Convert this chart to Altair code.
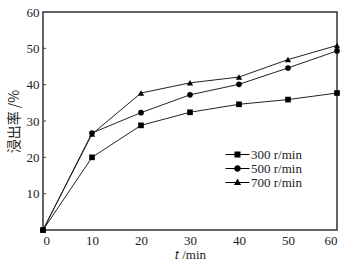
import altair as alt
import pandas as pd

times = [0, 10, 20, 30, 40, 50, 60]
s300 = [0, 20.0, 28.8, 32.4, 34.6, 35.9, 37.7]
s500 = [0, 26.7, 32.3, 37.2, 40.1, 44.6, 49.3]
s700 = [0, 26.4, 37.7, 40.5, 42.1, 46.9, 50.8]
series_names = ["300 r/min", "500 r/min", "700 r/min"]
marker_shapes = ["square", "circle", "triangle-up"]
y_ticks = [10, 20, 30, 40, 50]

rows = []
for name, vals in zip(series_names, [s300, s500, s700]):
    for t, v in zip(times, vals):
        rows.append({"t": t, "v": v, "series": name})
df = pd.DataFrame(rows)
tick_df = pd.DataFrame({"y": y_ticks})

FONT = "Liberation Serif"
xs = alt.Scale(domain=[0, 60], nice=False)
ys = alt.Scale(domain=[0, 60], nice=False)

base = alt.Chart(df)

lines = base.mark_line(color="#222", strokeWidth=1).encode(
    x=alt.X("t:Q", scale=xs,
            axis=alt.Axis(values=times, title="𝑡 /min", ticks=False, grid=False,
                          domain=False, labelPadding=4, titlePadding=1,
                          labelFont=FONT, titleFont=FONT)),
    y=alt.Y("v:Q", scale=ys,
            axis=alt.Axis(values=[10, 20, 30, 40, 50, 60], title="浸出率 /%", ticks=False,
                          grid=False, domain=False, labelPadding=4, titlePadding=5,
                          labelFont=FONT, titleFont="Noto Sans CJK SC", titleFontSize=14)),
    detail="series:N",
)

point_layers = []
for name, shp in zip(series_names, marker_shapes):
    point_layers.append(
        base.transform_filter(alt.datum.series == name)
        .mark_point(filled=True, color="black", opacity=1, shape=shp,
                    size=40 if shp == "triangle-up" else 32)
        .encode(x=alt.X("t:Q", scale=xs), y=alt.Y("v:Q", scale=ys))
    )

# legend symbols: a thin filled bar (the line) through the marker;
# custom paths are scaled by sqrt(size)/2
bar = "M-4,-0.18H4V0.18H-4Z"
legend_paths = [
    bar + "M-1,-1H1V1H-1Z",
    bar + "M-1.1,0A1.1,1.1 0 1,1 1.1,0A1.1,1.1 0 1,1 -1.1,0Z",
    bar + "M0,-1.3L1.2,0.8L-1.2,0.8Z",
]
legend_layer = base.transform_filter("datum.t < 0").mark_point(
    filled=True, color="black", opacity=1
).encode(
    x=alt.X("t:Q", scale=xs),
    y=alt.Y("v:Q", scale=ys),
    shape=alt.Shape("series:N",
                    scale=alt.Scale(domain=series_names, range=legend_paths),
                    legend=alt.Legend(title=None, orient="none", legendX=188, legendY=136,
                                      symbolSize=36, symbolStrokeWidth=0,
                                      symbolFillColor="#111", symbolOpacity=1,
                                      labelFont=FONT, labelFontSize=13, labelColor="#222",
                                      labelOffset=7, rowPadding=0)),
)

ticks = alt.Chart(tick_df).mark_rule(color="#444", strokeWidth=1).encode(
    x=alt.value(0), x2=alt.value(3), y=alt.Y("y:Q", scale=ys)
)

chart = alt.layer(lines, *point_layers, legend_layer, ticks).properties(
    width=294, height=218,
    background="white",
    autosize=alt.AutoSizeParams(type="none"),
    padding={"left": 43, "top": 12, "right": 21, "bottom": 37},
).configure_view(
    stroke="#333", strokeWidth=1.5
).configure_axis(
    labelFont=FONT, labelFontSize=13, labelColor="#222",
    titleFont=FONT, titleFontSize=13, titleColor="#222", titleFontWeight="normal",
)

chart.save("out.html", embed_options={"renderer": "svg", "actions": False})
